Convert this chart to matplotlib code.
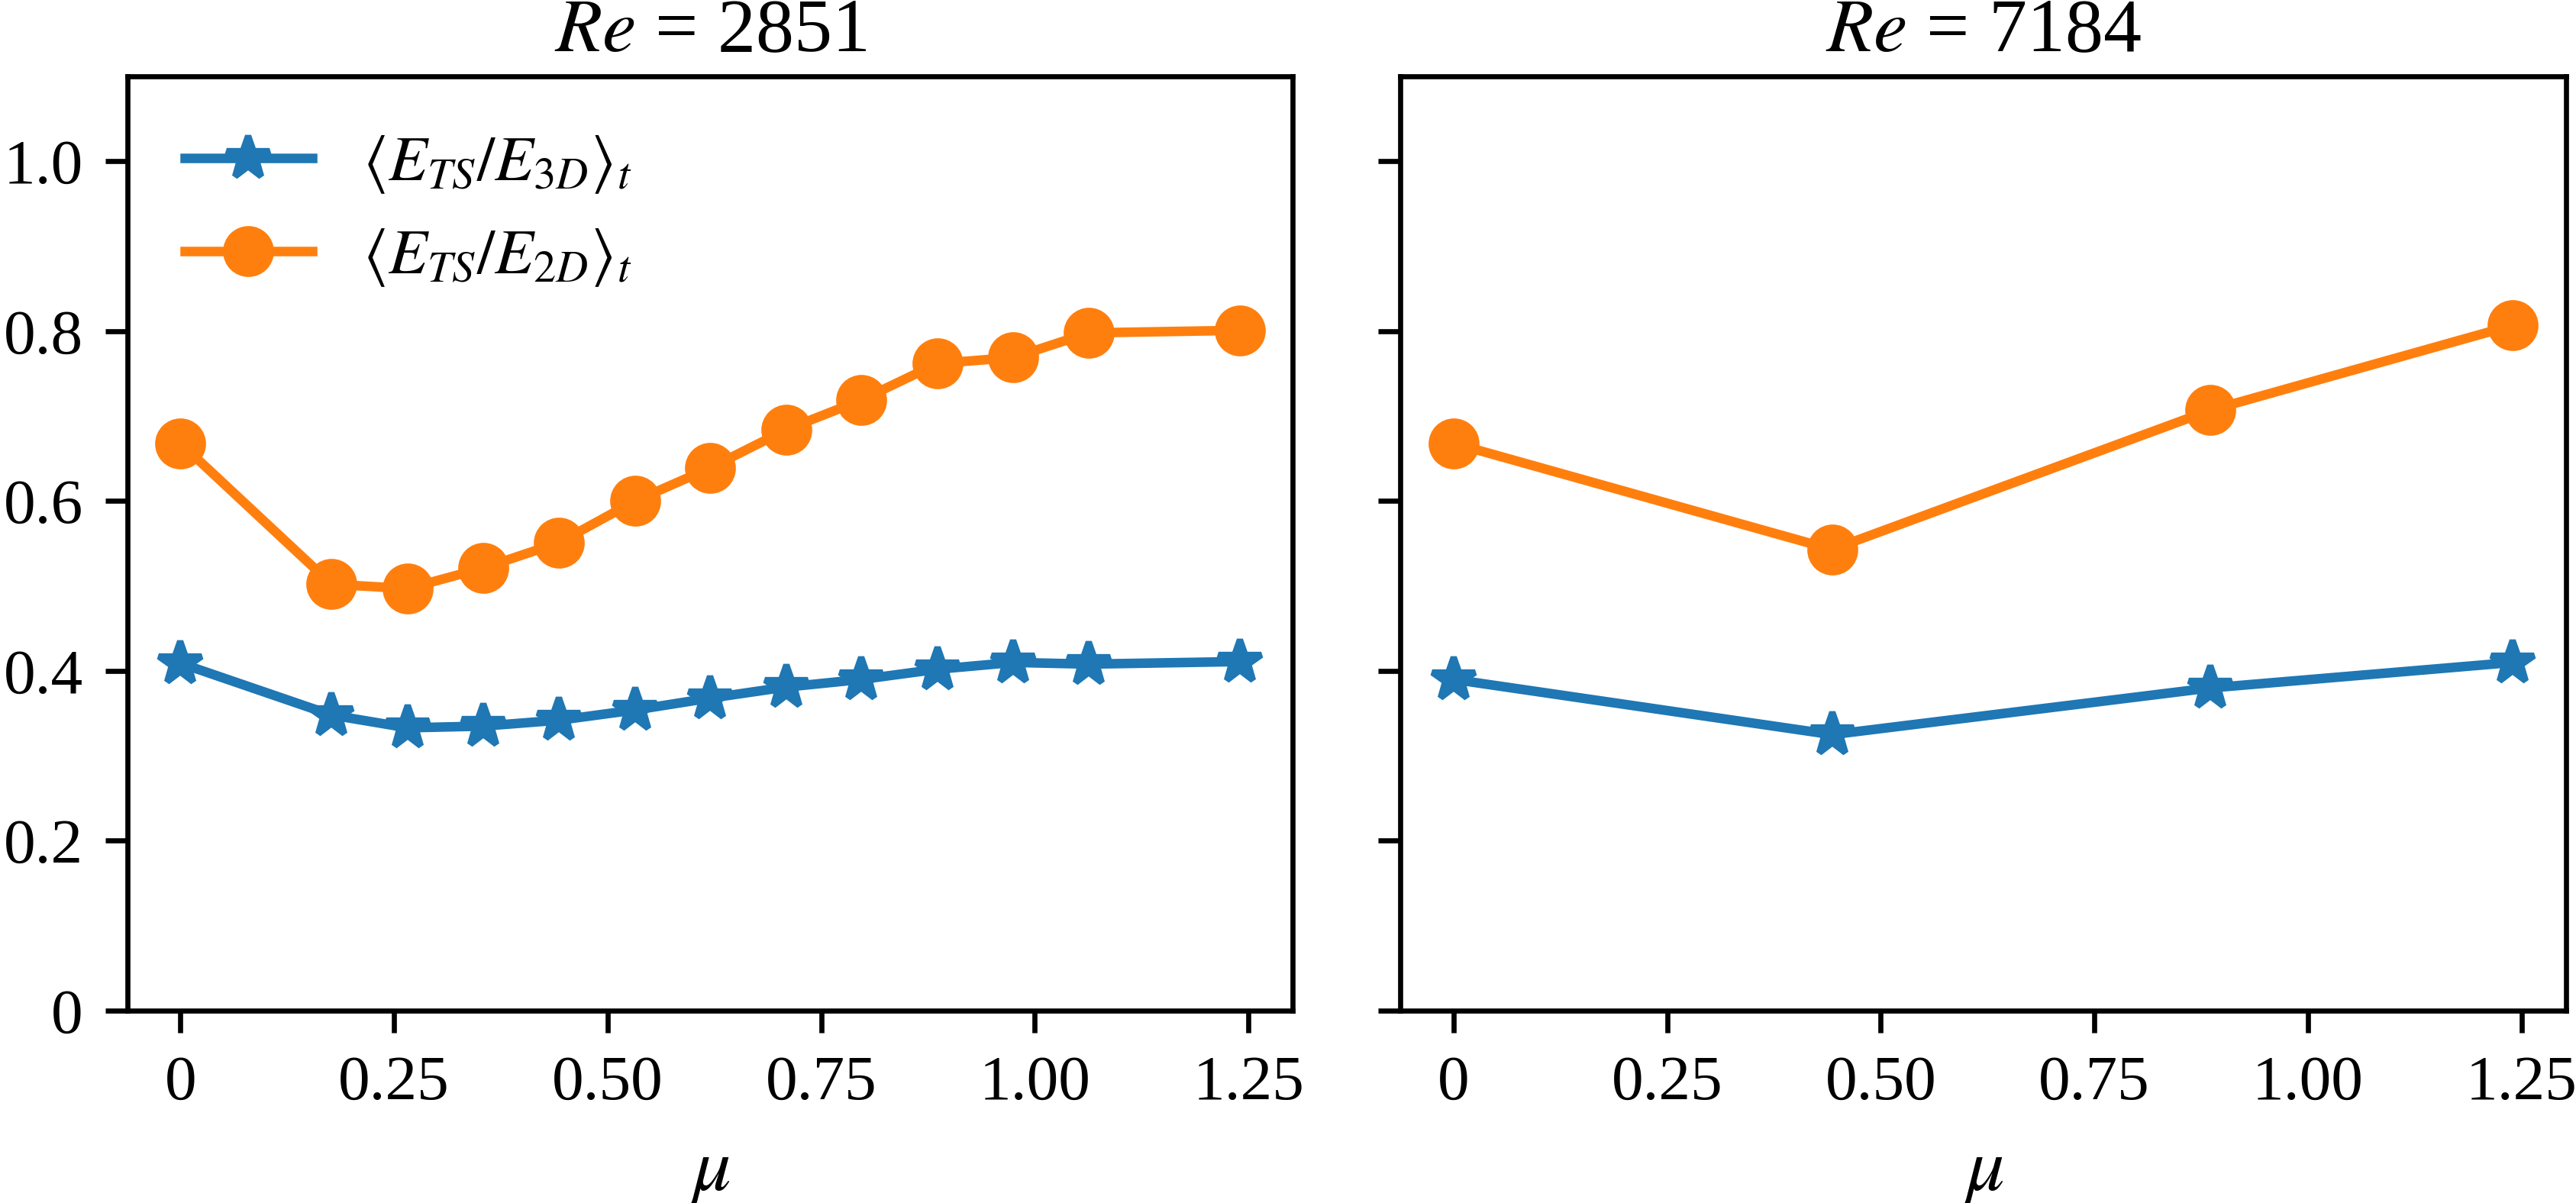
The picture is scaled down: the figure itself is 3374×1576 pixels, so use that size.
import matplotlib
matplotlib.use("Agg")
import matplotlib.pyplot as plt
from matplotlib.ticker import FixedLocator, FuncFormatter

# fonts: Times-like text and math
plt.rcParams['font.family'] = ['Liberation Serif', 'DejaVu Serif']
plt.rcParams['mathtext.fontset'] = 'stix'
plt.rcParams['font.size'] = 10

# Re = 2851
mu_a = [0, 0.177, 0.266, 0.354, 0.443, 0.532, 0.620, 0.709, 0.797, 0.886, 0.975, 1.063, 1.240]
ratio3d_a = [0.409, 0.348, 0.333, 0.335, 0.342, 0.354, 0.368, 0.381, 0.390, 0.402, 0.410, 0.408, 0.411]
ratio2d_a = [0.668, 0.502, 0.497, 0.521, 0.551, 0.600, 0.639, 0.684, 0.719, 0.762, 0.769, 0.798, 0.801]

# Re = 7184
mu_b = [0, 0.443, 0.886, 1.240]
ratio3d_b = [0.390, 0.325, 0.380, 0.410]
ratio2d_b = [0.668, 0.543, 0.707, 0.807]

titles = [r'$Re$ = 2851', r'$Re$ = 7184']
xticks = [0, 0.25, 0.5, 0.75, 1.0, 1.25]
yticks = [0, 0.2, 0.4, 0.6, 0.8, 1.0]
label3d = r'$\langle E_{TS}/E_{3D}\rangle_t$'
label2d = r'$\langle E_{TS}/E_{2D}\rangle_t$'


def fmt_x(v, pos):
    return '0' if v == 0 else f'{v:.2f}'


def fmt_y(v, pos):
    return '0' if v == 0 else f'{v:.1f}'


fig, axes = plt.subplots(1, 2, figsize=(3374 / 600, 1576 / 600), dpi=600, sharey=True)
fig.subplots_adjust(left=0.0495, right=0.9961, bottom=0.1599, top=0.9365, wspace=0.0924)

data = [(mu_a, ratio3d_a, ratio2d_a), (mu_b, ratio3d_b, ratio2d_b)]
for ax, (mu, r3, r2), title in zip(axes, data, titles):
    ax.plot(mu, r3, '-*', color='#1f77b4', lw=1.5, ms=7, label=label3d)
    ax.plot(mu, r2, '-o', color='#ff7f0e', lw=1.5, ms=7, label=label2d)
    ax.set_ylim(0, 1.1)
    ax.xaxis.set_major_locator(FixedLocator(xticks))
    ax.xaxis.set_major_formatter(FuncFormatter(fmt_x))
    ax.yaxis.set_major_locator(FixedLocator(yticks))
    ax.yaxis.set_major_formatter(FuncFormatter(fmt_y))
    ax.set_xlabel(r'$\mu$', fontsize=12)
    ax.set_title(title, pad=4)

axes[0].legend(loc='upper left', frameon=False)

fig.savefig('out.png', dpi=600)
